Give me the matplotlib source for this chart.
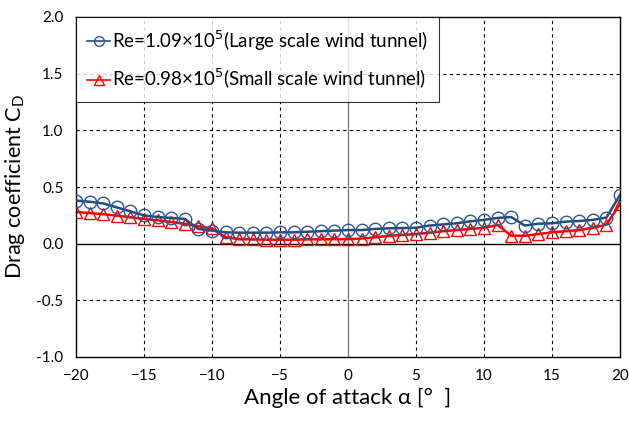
import matplotlib
matplotlib.use("Agg")
import matplotlib.pyplot as plt

plt.rcParams["font.family"] = ["Lato", "DejaVu Sans"]

# angle of attack [deg]
alpha = list(range(-20, 21))

# Re=1.09e5, large scale wind tunnel
cd_large = [0.38, 0.37, 0.355, 0.32, 0.285, 0.25, 0.235, 0.227, 0.218, 0.13,
            0.115, 0.10, 0.097, 0.097, 0.097, 0.10, 0.10, 0.105, 0.11, 0.115,
            0.12, 0.12, 0.13, 0.135, 0.138, 0.14, 0.16, 0.17, 0.18, 0.197,
            0.21, 0.227, 0.235, 0.16, 0.176, 0.18, 0.194, 0.20, 0.21, 0.23,
            0.43]

# Re=0.98e5, small scale wind tunnel
cd_small = [0.28, 0.27, 0.26, 0.247, 0.233, 0.218, 0.206, 0.19, 0.175, 0.153,
            0.135, 0.056, 0.04, 0.038, 0.035, 0.035, 0.035, 0.038, 0.038, 0.04,
            0.04, 0.045, 0.056, 0.068, 0.077, 0.085, 0.097, 0.11, 0.12, 0.13,
            0.14, 0.165, 0.07, 0.07, 0.085, 0.10, 0.11, 0.12, 0.14, 0.168,
            0.35]

xticks = list(range(-20, 21, 5))
yticks = [-1.0, -0.5, 0.0, 0.5, 1.0, 1.5, 2.0]

fig = plt.figure(figsize=(6.29, 4.22), dpi=100)
ax = fig.add_axes([76 / 629, 65 / 422, 544 / 629, 340 / 422])

for t in xticks[1:-1]:
    if t == 0:
        ax.axvline(t, color="#808080", lw=1.0, zorder=1)
    else:
        ax.axvline(t, color="black", lw=0.8, ls=(0, (3, 3)), zorder=1)
for t in yticks[1:-1]:
    if t == 0:
        ax.axhline(t, color="black", lw=1.0, zorder=1)
    else:
        ax.axhline(t, color="black", lw=0.8, ls=(0, (3, 3)), zorder=1)

ax.plot(alpha, cd_large, color="#1F4E79", lw=1.8, marker="o", ms=9,
        mfc="none", mec="#2F5597", mew=1.0, zorder=3,
        label=r"Re=1.09×10$^{5}$(Large scale wind tunnel)")
ax.plot(alpha, cd_small, color="#FF0000", lw=1.8, marker="^", ms=8.5,
        mfc="none", mec="#FF0000", mew=1.0, zorder=2,
        label=r"Re=0.98×10$^{5}$(Small scale wind tunnel)")

ax.set_xlim(-20, 20)
ax.set_ylim(-1.0, 2.0)
ax.set_xticks(xticks)
ax.set_yticks(yticks)
ax.set_yticklabels([f"{v:.1f}" for v in yticks])
ax.tick_params(length=0, labelsize=11, pad=9)
for s in ax.spines.values():
    s.set_color("black")
    s.set_linewidth(1.0)

ax.set_xlabel("Angle of attack α [°  ]", fontsize=16, labelpad=3)
ax.set_ylabel("Drag coefficient C$_\\mathregular{D}$", fontsize=15.5, labelpad=7)

leg = ax.legend(loc="upper left", bbox_to_anchor=(0, 1.0), fontsize=13.5,
                frameon=True, fancybox=False, edgecolor="black",
                handlelength=1.2, handletextpad=0.1, borderpad=0.6,
                labelspacing=0.75, borderaxespad=0)
leg.get_frame().set_linewidth(0.8)
for h in leg.legend_handles:
    h.set_markersize(7)
    h.set_linewidth(1.2)

fig.savefig("out.png", dpi=100)
